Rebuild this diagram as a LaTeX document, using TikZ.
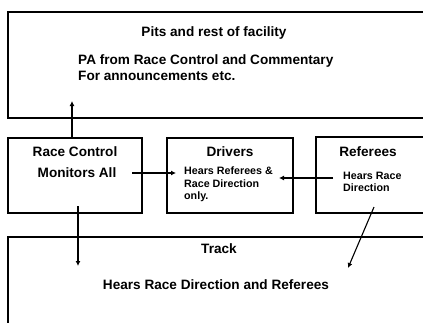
\documentclass[tikz,border=0pt]{standalone}
\usepackage{fontspec}
\setmainfont{Liberation Sans}
\usetikzlibrary{arrows.meta}
\begin{document}
\begin{tikzpicture}[x=1pt,y=-1pt,
  box/.style={draw=black,line width=1.9pt},
  big/.style={font=\fontsize{13.6}{16}\selectfont\bfseries,inner sep=0pt},
  small/.style={font=\fontsize{10.7}{12.3}\selectfont\bfseries,inner sep=0pt,align=left},
  conn/.style={line width=1.1pt,-{Latex[length=5pt,width=5pt]}}]
\useasboundingbox (0,0) rectangle (423,322);
\begin{scope}
\clip (0,0) rectangle (423,322);
\draw[box] (8,12) rectangle (440,118);
\draw[box] (8,138) rectangle (142,213);
\draw[box] (167,138) rectangle (293,213);
\draw[box] (316,137) rectangle (440,213);
\draw[box] (8,237) rectangle (440,340);
\end{scope}
% top box texts
\node[big] (pits) at (214,33) {Pits and rest of facility};
\node[big,anchor=west] (pa) at (78,61) {PA from Race Control and Commentary};
\node[big,anchor=west] (ann) at (78,76) {For announcements etc.};
% race control
\node[big] (rc) at (75,152) {Race Control};
\node[big] (mon) at (77,173) {Monitors All};
% drivers
\node[big] (drv) at (230,152) {Drivers};
\node[small,anchor=north west] (dtxt) at (184,167) {Hears Referees \&\\Race Direction\\only.};
% referees
\node[big] (ref) at (368,152) {Referees};
\node[small,anchor=north west] (rtxt) at (343,172) {Hears Race\\Direction};
% track
\node[big] (trk) at (219,249) {Track};
\node[big] (htr) at (216,285) {Hears Race Direction and Referees};
% connectors
\coordinate (rcTop) at (72,138);
\coordinate (pitsIn) at (72,101);
\coordinate (monE) at (132,173);
\coordinate (dIn) at (176,173);
\coordinate (rIn) at (333,178);
\coordinate (dIn2) at (279,178);
\coordinate (rcIn) at (78,206);
\coordinate (trIn) at (78,266);
\coordinate (refIn) at (374,207);
\coordinate (trIn2) at (348,268);
\draw[conn] (rcTop) -- (pitsIn);
\draw[conn] (monE) -- (dIn);
\draw[conn] (rIn) -- (dIn2);
\draw[conn] (rcIn) -- (trIn);
\draw[conn] (refIn) -- (trIn2);
\end{tikzpicture}
\end{document}
